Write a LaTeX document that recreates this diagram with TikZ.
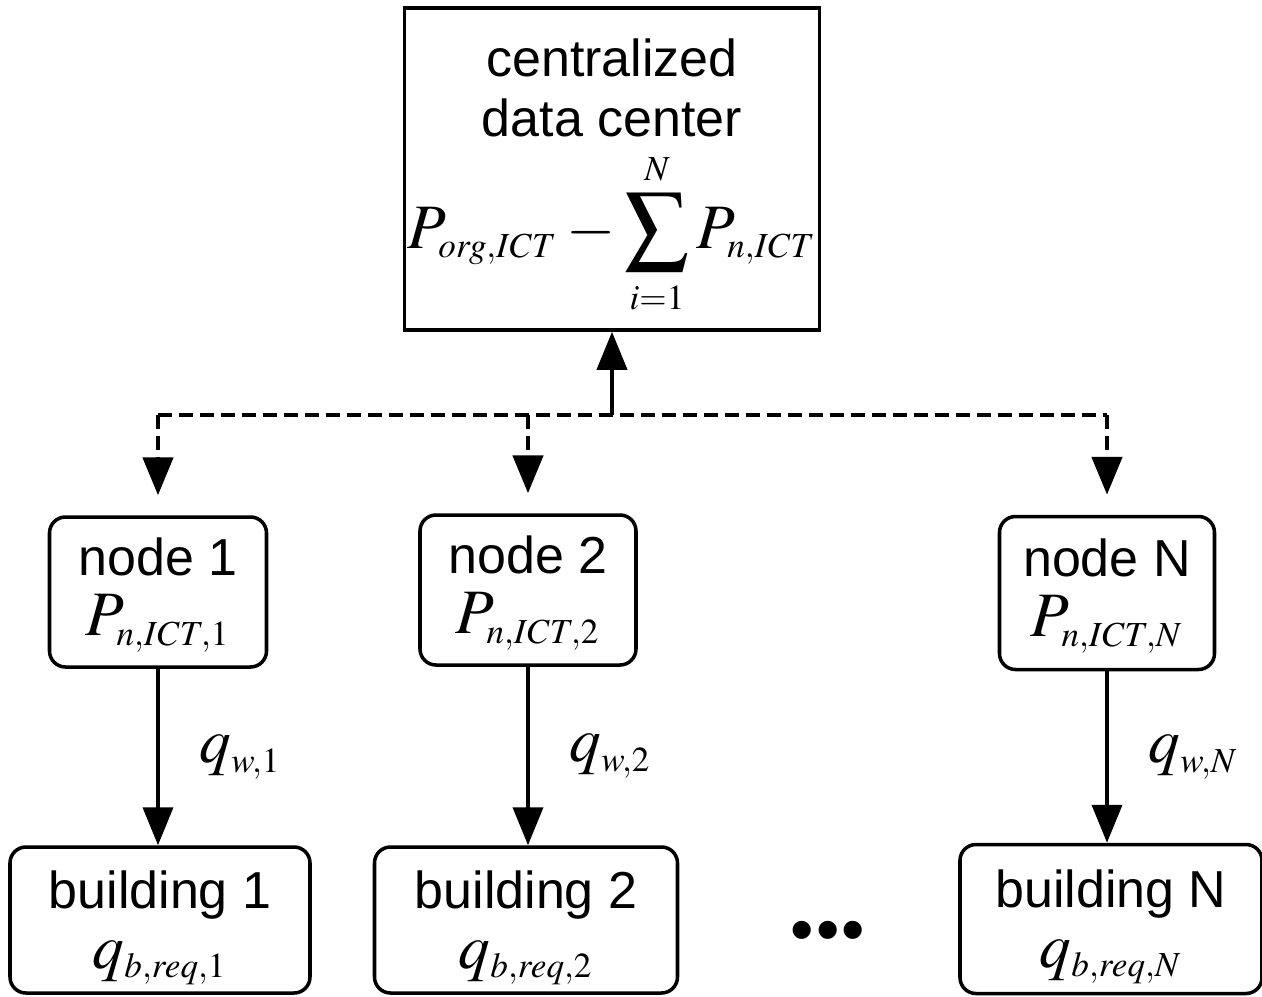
\documentclass[tikz,border=0pt]{standalone}
\usepackage{mathptmx}
\usepackage[no-math]{fontspec}
\setmainfont{Liberation Sans}
\usetikzlibrary{arrows.meta}
\DeclareMathSizes{18}{18}{10}{7}

\newcommand{\mth}[1]{{\fontsize{18}{18}\selectfont #1}}

\begin{document}
\begin{tikzpicture}[x=0.1mm,y=-0.1mm,
  box/.style={draw,line width=1pt,rounded corners=1.6mm,align=center,inner sep=0pt,font=\fontsize{14.8}{17}\selectfont},
  flow/.style={line width=1.1pt,-{Triangle[length=3.8mm,width=3mm]}},
  feed/.style={flow,line width=1.4pt,dash pattern=on 1.4mm off 0.7mm}]
\useasboundingbox (0,0) rectangle (1262,997);

% data center
\node[box,sharp corners,minimum width=41.5mm,minimum height=32.2mm] (dc) at (612,169)
  {\rule{0pt}{5.5mm}centralized\\data center\\[1.1mm]\mth{$P_{org,ICT}-\displaystyle\sum_{i=1}^{N}P_{n,ICT}$}};

% nodes
\node[box,minimum width=21.7mm,minimum height=15mm] (n1) at (158,592) {\rule{0pt}{4.4mm}node 1\\\mth{$P_{n,ICT,1}$}};
\node[box,minimum width=21.6mm,minimum height=15mm] (n2) at (528,590) {\rule{0pt}{4.4mm}node 2\\\mth{$P_{n,ICT,2}$}};
\node[box,minimum width=21.5mm,minimum height=15.3mm] (nN) at (1107,593) {\rule{0pt}{4.4mm}node N\\\mth{$P_{n,ICT,N}$}};

% buildings
\node[box,minimum width=30mm,minimum height=14.6mm] (b1) at (160,920) {\rule{0pt}{5.4mm}building 1\\\mth{$q_{b,req,1}$}};
\node[box,minimum width=30.3mm,minimum height=14.6mm] (b2) at (526,920) {\rule{0pt}{5.4mm}building 2\\\mth{$q_{b,req,2}$}};
\node[box,minimum width=30.2mm,minimum height=14.9mm] (bN) at (1111,919) {\rule{0pt}{5.4mm}building N\\\mth{$q_{b,req,N}$}};
\node (dots) at (828,937) {\fontsize{19}{19}\selectfont\textbullet\hspace{0.2mm}\textbullet\hspace{0.2mm}\textbullet};

\coordinate (bus) at (612,415);
\draw[flow] (bus) -- (dc.south);
\draw[feed,-] (bus -| n1) -- (bus -| nN);
\foreach \n in {n1,n2,nN}
  \draw[feed,shorten >=2mm] (bus -| \n) -- (\n.north);

\draw[flow] (n1) -- (n1 |- b1.north) node[midway,right=2.8mm] {\mth{$q_{w,1}$}};
\draw[flow] (n2) -- (n2 |- b2.north) node[midway,right=2.8mm] {\mth{$q_{w,2}$}};
\draw[flow] (nN) -- (nN |- bN.north) node[midway,right=2.8mm] {\mth{$q_{w,N}$}};
\end{tikzpicture}
\end{document}
